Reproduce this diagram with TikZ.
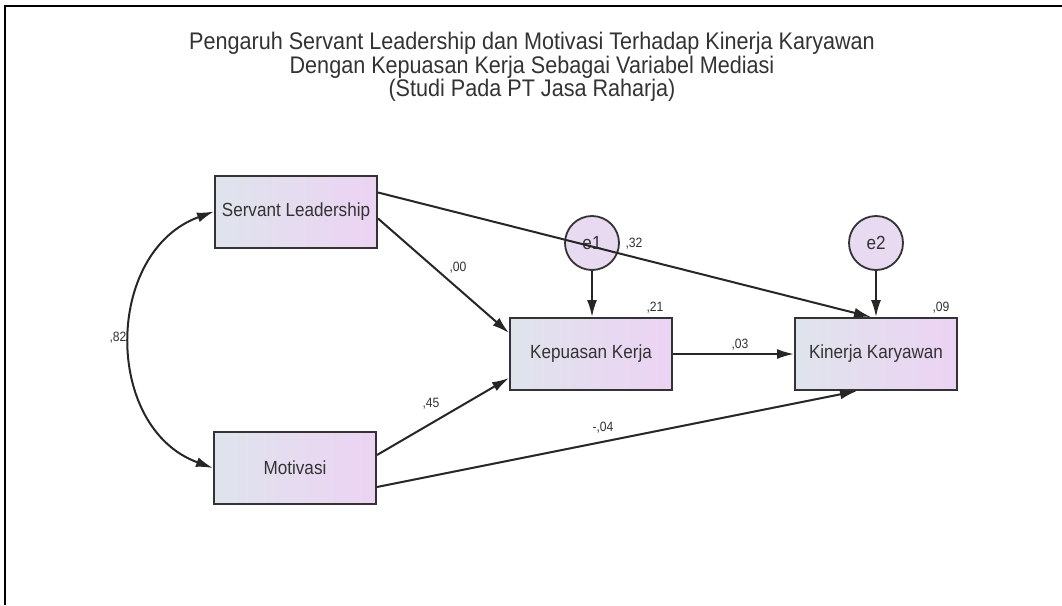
\documentclass[tikz,border=0pt]{standalone}
\usepackage{fontspec}
\setmainfont[FakeStretch=0.9]{Liberation Sans}
\usetikzlibrary{arrows.meta}
\definecolor{boxleft}{HTML}{DFE4EC}
\definecolor{boxright}{HTML}{ECD3F3}
\definecolor{errfill}{HTML}{E8DAF0}
\definecolor{ink}{HTML}{333333}
\begin{document}
\begin{tikzpicture}[x=1pt,y=-1pt,
  obs/.style={rectangle,draw=ink,line width=2pt,left color=boxleft,right color=boxright,
    minimum width=162pt,minimum height=72pt,font=\fontsize{19}{22}\selectfont,text=ink},
  err/.style={circle,draw=ink,line width=1.8pt,fill=errfill,minimum size=54pt,inner sep=0pt,
    font=\fontsize{19}{22}\selectfont,text=ink},
  arr/.style={-{Latex[length=17pt,width=10pt]},line width=2pt,draw=black!85},
  lbl/.style={font=\fontsize{13.5}{15}\selectfont,text=ink}]
\useasboundingbox (0,0) rectangle (1062,605);
\draw[line width=2.5pt] (5,605) -- (5,6) -- (1062,6);
\node[align=center,font=\fontsize{24}{21.5}\selectfont,text=ink] (title) at (532,67)
  {Pengaruh Servant Leadership dan Motivasi Terhadap Kinerja Karyawan\\
   Dengan Kepuasan Kerja Sebagai Variabel Mediasi\\
   (Studi Pada PT Jasa Raharja)};
\node[obs] (sl) at (296,211.5) {Servant Leadership};
\node[obs] (mot) at (295,468) {Motivasi};
\node[obs] (kep) at (591,354) {Kepuasan Kerja};
\node[obs] (kin) at (876,354) {Kinerja Karyawan};
\node[err] (e1) at (592,243) {e1};
\node[err] (e2) at (876,243) {e2};
\draw[arr] ([yshift=19pt]sl.east) -- ([xshift=-5pt]kin.north);
\draw[arr] ([yshift=-7pt]sl.east) -- ([yshift=21pt]kep.west);
\draw[arr] ([yshift=13pt]mot.east) -- ([yshift=-24pt]kep.west);
\draw[arr] ([yshift=-19pt]mot.east) -- ([xshift=-19pt]kin.south);
\draw[arr] (kep.east) -- (kin.west);
\draw[arr] (e1) -- (e1 |- kep.north);
\draw[arr] (e2) -- (e2 |- kin.north);
\draw[arr,{Latex[length=17pt,width=10pt]}-{Latex[length=17pt,width=10pt]}]
  (sl.west) .. controls +(-110,40) and +(-110,-40) .. (mot.west);
\node[lbl] (c82) at (118,338) {,82};
\node[lbl] (p00) at (458,268) {,00};
\node[lbl] (p32) at (634,244) {,32};
\node[lbl] (p45) at (431,404) {,45};
\node[lbl] (p04) at (603,428) {-,04};
\node[lbl] (p03) at (740,345) {,03};
\node[lbl] (r21) at (655,308) {,21};
\node[lbl] (r09) at (941,308) {,09};
\end{tikzpicture}
\end{document}
